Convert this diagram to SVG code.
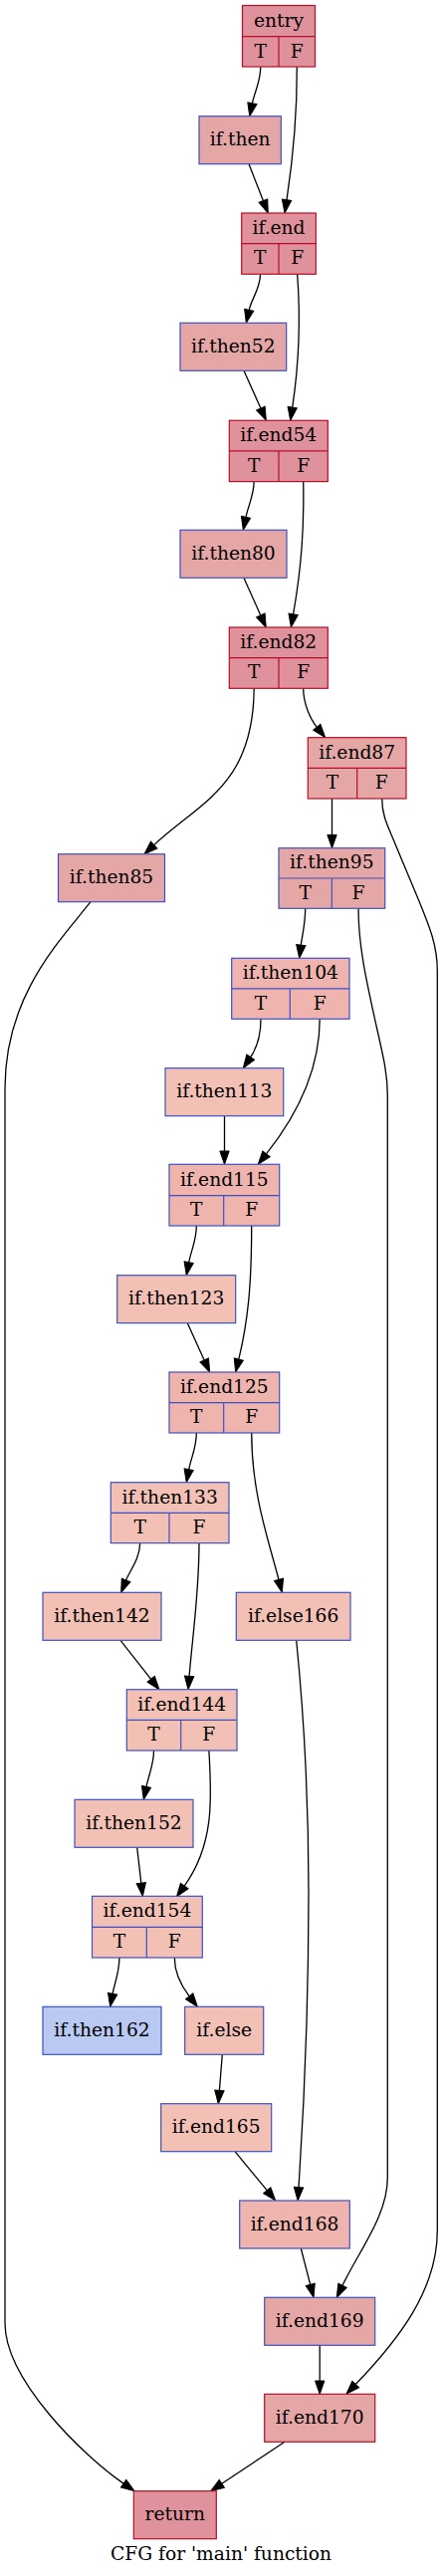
<svg xmlns="http://www.w3.org/2000/svg" width="445" height="2587" viewBox="0 0 445 2587">
<style>
text{font-family:"DejaVu Serif","Liberation Serif",serif;font-size:18.67px;text-anchor:middle;fill:#000}
.r{stroke:#b70d28;stroke-width:1.2}
.b{stroke:#3d50c3;stroke-width:1.2}
.fa{fill:#e0929c}
.fb{fill:#e5a6a6}
.fc{fill:#eeb4ad}
.fd{fill:#f2c0b5}
.fe{fill:#b9c9f2}
.ln{fill:none}
#edges path{fill:none;stroke:#000;stroke-width:1.3;marker-end:url(#ah)}
</style>
<defs>
<marker id="ah" markerWidth="14" markerHeight="10" refX="0" refY="4.67" orient="auto" markerUnits="userSpaceOnUse" overflow="visible"><path d="M0,0 L13.3,4.67 L0,9.33 Z" fill="#000" stroke="#000" stroke-width="1"/></marker>
</defs>
<rect width="445" height="2587" fill="#fff"/>
<g id="edges">
<path d="M261.75,67.3 C261.75,82 255.8,91.9 253.4,103.7"/>
<path d="M298.25,67.3 C298.5,120 294,161.2 288,200.8"/>
<path d="M250,164.7 L264.4,201.6"/>
<path d="M261.5,275.3 C261.5,290 252.8,299.6 250.2,311.3"/>
<path d="M298.65,275.3 C302,320 301.2,359.6 293.7,409.1"/>
<path d="M245,372.3 L261.9,410.1"/>
<path d="M255.2,482.7 C255.2,497 249.4,507.5 247,519.3"/>
<path d="M304.7,482.7 C305.5,530 303.1,567.6 294.6,616.9"/>
<path d="M245,580.5 L261.8,617.9"/>
<path d="M255.2,691.3 C254.5,790 199.8,806 154.7,848.6"/>
<path d="M304.7,691.3 C304.7,707 312,722.5 318.3,730.3"/>
<path d="M333.5,801.7 L333.5,838.4"/>
<path d="M383.7,801.7 C383.7,820 390,830 398,850 L421,905 C432,932 439.3,950 439.3,975 L439.3,2240 C439.3,2300 400,2350 357.2,2394.5"/>
<path d="M306.7,912.3 C306.7,928 303.5,939.2 302.3,949.1"/>
<path d="M360,912.3 C360,950 368,985 378,1030 C386,1065 389.3,1080 389.3,1100 L389.3,2186.7 C389.3,2225 361.2,2259.3 344,2295.3"/>
<path d="M262,1023.3 C262,1040 257.3,1053.4 251.7,1061.7"/>
<path d="M321.2,1023.3 C321.2,1075 298.5,1119.9 267.5,1158.9"/>
<path d="M225.5,1120.7 L225.5,1156"/>
<path d="M197.35,1231 C197.35,1246 191.9,1255.9 189.7,1267.7"/>
<path d="M252.7,1231 C252.7,1290 249.2,1326.3 239.8,1365.1"/>
<path d="M188.3,1328.7 L205.2,1365.9"/>
<path d="M197.35,1439 C197.35,1454 191.9,1463.9 189.7,1475.7"/>
<path d="M252.7,1439 C252.7,1500 270,1547.6 280,1586.4"/>
<path d="M140.65,1549.7 C140.65,1565 130.3,1577.6 126.6,1586.9"/>
<path d="M200,1549.7 C200,1600 193.3,1643.5 190.1,1683.4"/>
<path d="M121,1647.3 L151.7,1686.3"/>
<path d="M297.7,1647.3 C305,1720 310,1800 310,1900 C310,2050 303,2150 300,2196.7"/>
<path d="M154.5,1758 C154.5,1772 149.4,1782.5 147,1794.3"/>
<path d="M209.9,1758 C212,1800 217,1850 185.2,1894.1"/>
<path d="M137.7,1855.3 L141.8,1891.1"/>
<path d="M119.9,1966 C119.9,1981 115.3,1990.5 113.1,2002.3"/>
<path d="M175.3,1966 C175.3,1983 184.1,1996.9 190.2,2004.8"/>
<path d="M223.3,2063.3 L220.4,2099.4"/>
<path d="M236,2160.7 L268.2,2199.7"/>
<path d="M302.3,2258 L311.7,2294.4"/>
<path d="M321.2,2355.3 L321.2,2391"/>
<path d="M286,2452.3 L222.8,2494.3"/>
<path d="M91,905.7 C60,945 5,1000 5,1093 L5,2333 C5,2390 83.1,2465.6 124.1,2494.1"/>
</g>
<g id="node-entry"><rect class="fa r" x="243.5" y="5.5" width="73" height="61.5"/><path class="r ln" d="M243.5,36.7 H316.5 M280,36.7 V67"/><text x="280" y="26.6">entry</text><text x="261.75" y="57.5">T</text><text x="298.25" y="57.5">F</text></g>
<g id="node-if.then"><rect class="fb b" x="200" y="116.7" width="82.3" height="48"/><text x="241.15" y="146.2">if.then</text></g>
<g id="node-if.end"><rect class="fa r" x="242.7" y="214" width="74.6" height="61.3"/><path class="r ln" d="M242.7,244.6 H317.3 M280,244.6 V275.3"/><text x="280" y="234.8">if.end</text><text x="261.35" y="265.4">T</text><text x="298.65" y="265.4">F</text></g>
<g id="node-if.then52"><rect class="fb b" x="181" y="324.3" width="106.7" height="48"/><text x="234.35" y="353.8">if.then52</text></g>
<g id="node-if.end54"><rect class="fa r" x="230.3" y="422.3" width="99" height="61.3"/><path class="r ln" d="M230.3,452.9 H329.3 M280,452.9 V483.6"/><text x="279.8" y="443.1">if.end54</text><text x="255.15" y="473.7">T</text><text x="304.65" y="473.7">F</text></g>
<g id="node-if.then80"><rect class="fb b" x="181" y="532.3" width="107" height="48"/><text x="234.5" y="561.8">if.then80</text></g>
<g id="node-if.end82"><rect class="fa r" x="230.3" y="630" width="99" height="61.3"/><path class="r ln" d="M230.3,660.6 H329.3 M280,660.6 V691.3"/><text x="279.8" y="650.8">if.end82</text><text x="255.15" y="681.4">T</text><text x="304.65" y="681.4">F</text></g>
<g id="node-if.then85"><rect class="fb b" x="58.5" y="857.7" width="107" height="48"/><text x="112" y="887.2">if.then85</text></g>
<g id="node-if.end87"><rect class="fb r" x="309.3" y="740.7" width="98.7" height="61.3"/><path class="r ln" d="M309.3,771.3 H408 M358.7,771.3 V802"/><text x="358.65" y="761.5">if.end87</text><text x="334" y="792.1">T</text><text x="383.35" y="792.1">F</text></g>
<g id="node-if.then95"><rect class="fb b" x="280" y="851.7" width="106.7" height="60.6"/><path class="b ln" d="M280,882 H386.7 M333.3,882 V912.3"/><text x="333.35" y="872.3">if.then95</text><text x="306.65" y="902.6">T</text><text x="360" y="902.6">F</text></g>
<g id="node-if.then104"><rect class="fc b" x="232.7" y="962.3" width="118.3" height="61"/><path class="b ln" d="M232.7,992.8 H351 M291.3,992.8 V1023.3"/><text x="291.85" y="983.1">if.then104</text><text x="262" y="1013.5">T</text><text x="321.15" y="1013.5">F</text></g>
<g id="node-if.then113"><rect class="fd b" x="166" y="1072.7" width="118.7" height="48"/><text x="225.35" y="1102.2">if.then113</text></g>
<g id="node-if.end115"><rect class="fc b" x="170" y="1169.3" width="110.7" height="61.7"/><path class="b ln" d="M170,1200.7 H280.7 M224.7,1200.7 V1231"/><text x="225.35" y="1190.5">if.end115</text><text x="197.35" y="1221.3">T</text><text x="252.7" y="1221.3">F</text></g>
<g id="node-if.then123"><rect class="fd b" x="117.7" y="1280.7" width="119" height="48"/><text x="177.2" y="1310.2">if.then123</text></g>
<g id="node-if.end125"><rect class="fc b" x="170" y="1378" width="110.7" height="61"/><path class="b ln" d="M170,1408.7 H280.7 M224.7,1408.7 V1439"/><text x="225.35" y="1398.8">if.end125</text><text x="197.35" y="1429.3">T</text><text x="252.7" y="1429.3">F</text></g>
<g id="node-if.then133"><rect class="fd b" x="111.3" y="1488.7" width="118.7" height="61"/><path class="b ln" d="M111.3,1519.3 H230 M170,1519.3 V1549.7"/><text x="170.65" y="1509.5">if.then133</text><text x="140.65" y="1540">T</text><text x="200" y="1540">F</text></g>
<g id="node-if.then142"><rect class="fd b" x="43" y="1599.3" width="119" height="48"/><text x="102.5" y="1628.8">if.then142</text></g>
<g id="node-if.else166"><rect class="fd b" x="237.3" y="1599.3" width="114.7" height="48"/><text x="294.65" y="1628.8">if.else166</text></g>
<g id="node-if.end144"><rect class="fd b" x="127.3" y="1696.7" width="110.7" height="61.3"/><path class="b ln" d="M127.3,1727.3 H238 M181.7,1727.3 V1758"/><text x="182.65" y="1717.5">if.end144</text><text x="154.5" y="1748.1">T</text><text x="209.85" y="1748.1">F</text></g>
<g id="node-if.then152"><rect class="fd b" x="75" y="1807.3" width="119" height="48"/><text x="134.5" y="1836.8">if.then152</text></g>
<g id="node-if.end154"><rect class="fd b" x="92.5" y="1904.3" width="110.8" height="61.7"/><path class="b ln" d="M92.5,1935.3 H203.3 M147.3,1935.3 V1966"/><text x="147.9" y="1925.1">if.end154</text><text x="119.9" y="1956.2">T</text><text x="175.3" y="1956.2">F</text></g>
<g id="node-if.then162"><rect class="fe b" x="43" y="2015.3" width="119" height="48"/><text x="102.5" y="2044.8">if.then162</text></g>
<g id="node-if.else"><rect class="fd b" x="185.7" y="2015.3" width="79" height="48"/><text x="225.2" y="2044.8">if.else</text></g>
<g id="node-if.end165"><rect class="fd b" x="161.7" y="2112.7" width="111" height="48"/><text x="217.2" y="2142.2">if.end165</text></g>
<g id="node-if.end168"><rect class="fc b" x="240.7" y="2210" width="110.6" height="48"/><text x="296" y="2239.5">if.end168</text></g>
<g id="node-if.end169"><rect class="fb b" x="265.7" y="2307.3" width="111" height="48"/><text x="321.2" y="2336.8">if.end169</text></g>
<g id="node-if.end170"><rect class="fb r" x="265.7" y="2404.3" width="111" height="48"/><text x="321.2" y="2433.8">if.end170</text></g>
<g id="node-return"><rect class="fa r" x="134.3" y="2501.7" width="83" height="48"/><text x="175.8" y="2531.2">return</text></g>
<text x="222" y="2571">CFG for 'main' function</text>
</svg>
